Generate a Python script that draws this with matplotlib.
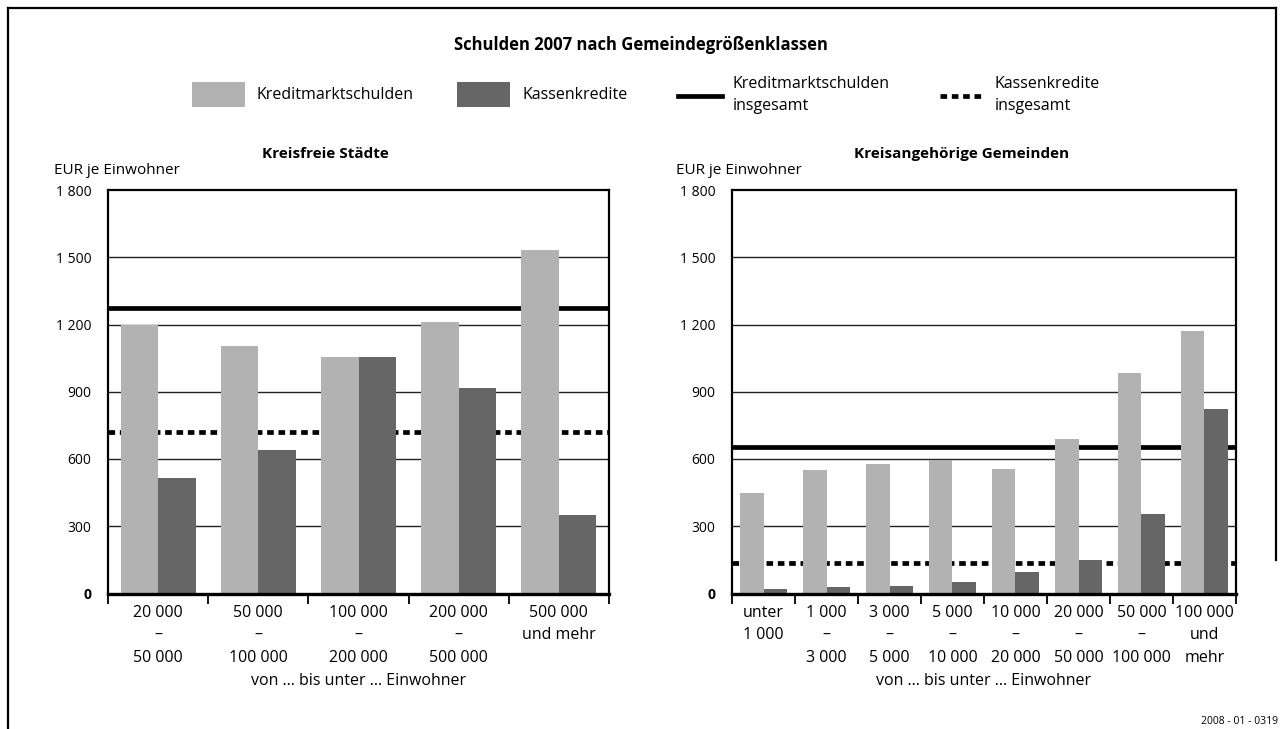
import matplotlib
matplotlib.use("Agg")
import matplotlib.pyplot as plt
from matplotlib.patches import Rectangle
from matplotlib.lines import Line2D

plt.rcParams['font.family'] = ['Open Sans', 'DejaVu Sans']

# ---------------- data ----------------
title = "Schulden 2007 nach Gemeindegrößenklassen"
left_title = "Kreisfreie Städte"
right_title = "Kreisangehörige Gemeinden"
ylabel = "EUR je Einwohner"
xlabel = "von ... bis unter ... Einwohner"
footer = "2008 - 01 - 0319"

left_categories = ["20 000\n–\n50 000", "50 000\n–\n100 000", "100 000\n–\n200 000",
                   "200 000\n–\n500 000", "500 000\nund mehr"]
left_kredit = [1196, 1106, 1057, 1213, 1534]
left_kassen = [514, 639, 1057, 915, 349]
left_kredit_total = 1273
left_kassen_total = 719

right_categories = ["unter\n1 000", "1 000\n–\n3 000", "3 000\n–\n5 000", "5 000\n–\n10 000",
                    "10 000\n–\n20 000", "20 000\n–\n50 000", "50 000\n–\n100 000",
                    "100 000\nund\nmehr"]
right_kredit = [447, 550, 576, 594, 554, 688, 982, 1169]
right_kassen = [19, 28, 33, 50, 95, 149, 353, 821]
right_kredit_total = 653
right_kassen_total = 137

yticks = [0, 300, 600, 900, 1200, 1500, 1800]
ytick_labels = ["0", "300", "600", "900", "1 200", "1 500", "1 800"]

legend_labels = ["Kreditmarktschulden", "Kassenkredite",
                 "Kreditmarktschulden\ninsgesamt", "Kassenkredite\ninsgesamt"]

# ---------------- style ----------------
LIGHT = "#b2b2b2"
DARK = "#666666"
W, H = 1282, 729
BW = 0.375

fig = plt.figure(figsize=(W / 100, H / 100), dpi=100)


def fx(px):
    return px / W


def fy(py):
    return 1 - py / H


def draw_panel(ax, cats, kredit, kassen, ktot, kastot):
    n = len(cats)
    x = list(range(n))
    ax.bar([i - BW / 2 for i in x], kredit, width=BW, color=LIGHT, zorder=3)
    ax.bar([i + BW / 2 for i in x], kassen, width=BW, color=DARK, zorder=3)
    ax.axhline(ktot, color="black", lw=3.4, zorder=2)
    ax.axhline(kastot, color="black", lw=3.4, linestyle=(0, (1.4, 1.0)),
               dash_capstyle="butt", zorder=2)
    ax.set_xlim(-0.5, n - 0.5)
    ax.set_ylim(0, 1800)
    ax.set_yticks(yticks)
    ax.set_yticklabels(ytick_labels, fontsize=10)
    ax.get_yticklabels()[0].set_fontweight("bold")
    for y in yticks[1:-1]:
        ax.axhline(y, color="#222222", lw=1.0, zorder=1)
    ax.tick_params(axis="y", length=0, pad=12)
    # group boundary ticks
    ax.set_xticks([i - 0.5 for i in range(n + 1)])
    ax.set_xticklabels([])
    ax.tick_params(axis="x", which="major", length=7, width=1.3, direction="out")
    ax.set_xticks(x, minor=True)
    ax.set_xticklabels(cats, minor=True, fontsize=11.5, linespacing=1.55)
    ax.tick_params(axis="x", which="minor", length=0, pad=8)
    for s in ["top", "left", "right"]:
        ax.spines[s].set_linewidth(1.6)
    ax.spines["bottom"].set_linewidth(2.4)
    ax.spines["bottom"].set_zorder(5)


axL = fig.add_axes([fx(108), fy(593.5), fx(609 - 108), (593.5 - 190) / H])
axR = fig.add_axes([fx(732), fy(593.5), fx(1236 - 732), (593.5 - 190) / H])

draw_panel(axL, left_categories, left_kredit, left_kassen, left_kredit_total, left_kassen_total)
draw_panel(axR, right_categories, right_kredit, right_kassen, right_kredit_total, right_kassen_total)

# titles
fig.text(0.5, fy(45), title, ha="center", va="center", fontsize=12, fontweight="bold")
fig.text(fx(325), fy(154), left_title, ha="center", va="center", fontsize=11, fontweight="bold")
fig.text(fx(962), fy(154), right_title, ha="center", va="center", fontsize=11, fontweight="bold")
fig.text(fx(54), fy(171), ylabel, ha="left", va="center", fontsize=11)
fig.text(fx(676), fy(171), ylabel, ha="left", va="center", fontsize=11)
fig.text(fx(358.5), fy(681), xlabel, ha="center", va="center", fontsize=11.5)
fig.text(fx(984), fy(681), xlabel, ha="center", va="center", fontsize=11.5)
fig.text(fx(1278), fy(722), footer, ha="right", va="center", fontsize=7.5)

# legend
fig.add_artist(Rectangle((fx(192), fy(107)), fx(53), 25 / H, transform=fig.transFigure,
                         facecolor=LIGHT, edgecolor="none"))
fig.text(fx(257), fy(95), legend_labels[0], ha="left", va="center", fontsize=11.5)
fig.add_artist(Rectangle((fx(457), fy(107)), fx(53), 25 / H, transform=fig.transFigure,
                         facecolor=DARK, edgecolor="none"))
fig.text(fx(522), fy(95), legend_labels[1], ha="left", va="center", fontsize=11.5)
fig.add_artist(Line2D([fx(678), fx(722)], [fy(96), fy(96)], transform=fig.transFigure,
                      color="black", lw=3.4))
fig.text(fx(733), fy(95), legend_labels[2], ha="left", va="center", fontsize=11.5,
         linespacing=1.5)
fig.add_artist(Line2D([fx(940), fx(984)], [fy(96), fy(96)], transform=fig.transFigure,
                      color="black", lw=3.4, linestyle=(0, (1.4, 1.0)), dash_capstyle="butt"))
fig.text(fx(995), fy(95), legend_labels[3], ha="left", va="center", fontsize=11.5,
         linespacing=1.5)

# outer frame
fig.add_artist(Line2D([fx(8), fx(8)], [0, fy(8)], transform=fig.transFigure, color="black", lw=1.6))
fig.add_artist(Line2D([fx(8), fx(1276)], [fy(8), fy(8)], transform=fig.transFigure, color="black", lw=1.6))
fig.add_artist(Line2D([fx(1276), fx(1276)], [fy(8), fy(560)], transform=fig.transFigure, color="black", lw=1.6))

fig.savefig("out.png", dpi=100)
